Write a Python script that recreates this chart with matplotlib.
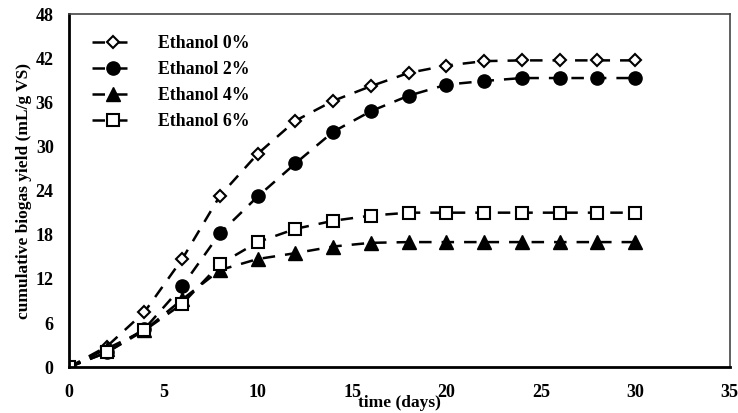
import matplotlib.pyplot as plt

plt.rcParams['font.family'] = ['Liberation Serif', 'DejaVu Serif']
plt.rcParams['font.weight'] = 'bold'

days = [0, 2, 4, 6, 8, 10, 12, 14, 16, 18, 20, 22, 24, 26, 28, 30]
eth0 = [0, 2.8, 7.5, 14.7, 23.3, 29.0, 33.5, 36.2, 38.2, 40.0, 41.0, 41.6, 41.7, 41.7, 41.7, 41.7]
eth2 = [0, 2.0, 5.2, 11.0, 18.2, 23.2, 27.7, 32.0, 34.8, 36.9, 38.4, 38.9, 39.3, 39.3, 39.3, 39.3]
eth4 = [0, 2.5, 5.0, 9.2, 13.2, 14.7, 15.5, 16.4, 16.9, 17.0, 17.0, 17.0, 17.0, 17.0, 17.0, 17.0]
eth6 = [0, 2.0, 5.0, 8.6, 14.0, 17.0, 18.8, 19.9, 20.6, 21.0, 21.0, 21.0, 21.0, 21.0, 21.0, 21.0]

labels = ['Ethanol 0%', 'Ethanol 2%', 'Ethanol 4%', 'Ethanol 6%']

fig = plt.figure(figsize=(7.38, 4.13), dpi=100)
ax = fig.add_axes([0.0935, 0.111, 0.895, 0.855])

dash = (0, (5, 4))
ax.plot(days, eth0, ls=dash, lw=1.8, color='black', marker='D', ms=6,
        mfc='white', mec='black', mew=1.5, label=labels[0])
ax.plot(days, eth2, ls=dash, lw=1.8, color='black', marker='o', ms=9.5,
        mfc='black', mec='black', label=labels[1])
ax.plot(days, eth4, ls=dash, lw=1.8, color='black', marker='^', ms=9.5,
        mfc='black', mec='black', label=labels[2])
ax.plot(days, eth6, ls=dash, lw=1.8, color='black', marker='s', ms=8.5,
        mfc='white', mec='black', mew=1.5, label=labels[3])

ax.set_xlim(0, 35)
ax.set_ylim(0, 48)
ax.set_xticks(range(0, 36, 5))
ax.set_yticks(range(0, 49, 6))
ax.tick_params(length=0, labelsize=13)
ax.tick_params(axis='x', pad=12)
ax.tick_params(axis='y', pad=11)

for s in ['left', 'bottom']:
    ax.spines[s].set_linewidth(2)
    ax.spines[s].set_color('black')
for s in ['top', 'right']:
    ax.spines[s].set_linewidth(1.2)
    ax.spines[s].set_color('#444444')

ax.set_xlabel('time (days)', fontsize=12.5, fontweight='bold', labelpad=-4)
ax.set_ylabel('cumulative biogas yield (mL/g VS)', fontsize=12.5, fontweight='bold', labelpad=3)

leg = ax.legend(loc='upper left', frameon=False, fontsize=12.8, handlelength=2.4,
                handletextpad=1.3, labelspacing=0.5, borderaxespad=0.9,
                bbox_to_anchor=(0.0, 1.005))
for t in leg.get_texts():
    t.set_fontweight('bold')

fig.savefig('out.png', dpi=100)
